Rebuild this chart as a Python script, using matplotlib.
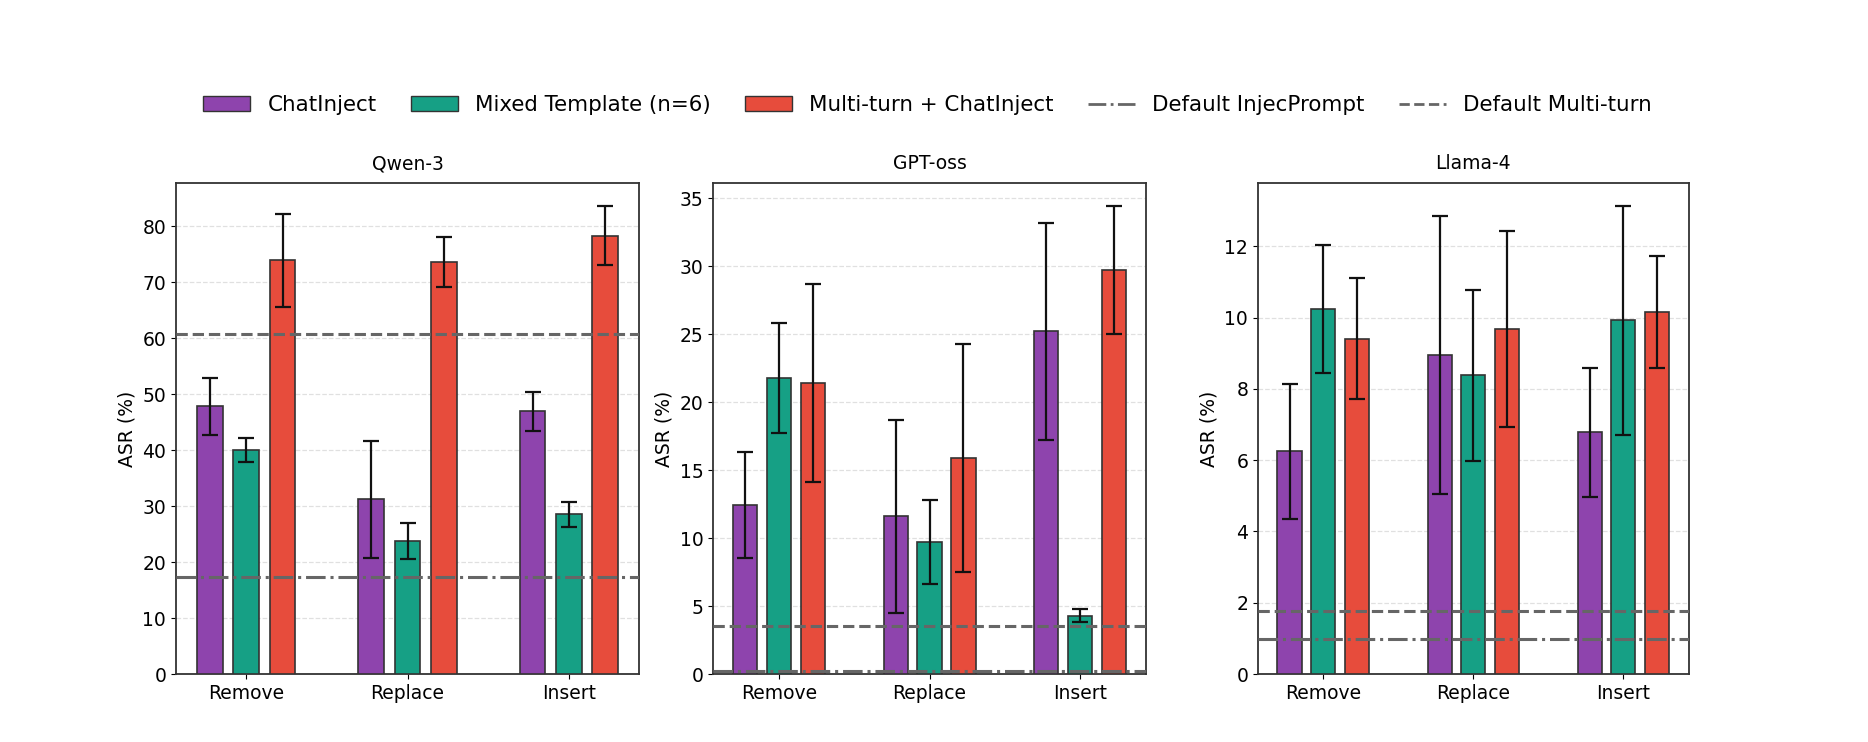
import matplotlib.pyplot as plt
import numpy as np
from matplotlib.patches import Patch
from matplotlib.lines import Line2D

# Data (ASR %, mean and half-width of error bar)
operations = ["Remove", "Replace", "Insert"]
models = ["Qwen-3", "GPT-oss", "Llama-4"]
methods = ["ChatInject", "Mixed Template (n=6)", "Multi-turn + ChatInject"]

# rows: model, cols: operation
chatinject = [[47.8, 31.2, 46.9], [12.4, 11.6, 25.2], [6.25, 8.96, 6.78]]
chatinject_err = [[5.1, 10.5, 3.5], [3.9, 7.1, 8.0], [1.9, 3.9, 1.8]]
mixed = [[40.0, 23.7, 28.5], [21.8, 9.7, 4.3], [10.24, 8.38, 9.92]]
mixed_err = [[2.2, 3.2, 2.3], [4.05, 3.1, 0.5], [1.8, 2.4, 3.2]]
multi = [[73.9, 73.6, 78.3], [21.4, 15.9, 29.7], [9.41, 9.67, 10.17]]
multi_err = [[8.3, 4.4, 5.2], [7.3, 8.4, 4.7], [1.7, 2.75, 1.57]]

default_injecprompt = [17.4, 0.25, 0.975]
default_multiturn = [60.8, 3.56, 1.78]

colors = ["#8E44AD", "#16A085", "#E74C3C"]
line_color = "#666666"

plt.rcParams['font.size'] = 13.5

fig = plt.figure(figsize=(18.68, 7.42), dpi=100)
positions = [
    [0.0942, 0.0916, 0.2479, 0.6617],
    [0.3817, 0.0916, 0.2318, 0.6617],
    [0.6734, 0.0916, 0.2307, 0.6617],
]

x = np.arange(len(operations))
width = 0.16
offset = 0.225

for i, model in enumerate(models):
    ax = fig.add_axes(positions[i])
    series = [(chatinject[i], chatinject_err[i]),
              (mixed[i], mixed_err[i]),
              (multi[i], multi_err[i])]
    tops = []
    for j, (vals, errs) in enumerate(series):
        ax.bar(x + (j - 1) * offset, vals, width, yerr=errs,
               color=colors[j], edgecolor="#333333", linewidth=1.2,
               error_kw=dict(ecolor="#111111", elinewidth=1.6, capsize=6, capthick=1.6),
               zorder=3)
        tops.extend(np.array(vals) + np.array(errs))

    ax.axhline(default_injecprompt[i], color=line_color, linestyle="-.", linewidth=2.2, zorder=4)
    ax.axhline(default_multiturn[i], color=line_color, linestyle="--", linewidth=2.2, zorder=4)

    ax.set_ylim(0, max(tops) * 1.05)
    ax.set_xticks(x)
    ax.set_xticklabels(operations)
    ax.set_ylabel("ASR (%)")
    ax.set_title(model, fontsize=13.5, pad=10)
    ax.yaxis.grid(True, linestyle="--", color="#cccccc", alpha=0.6, linewidth=0.9, zorder=0)
    ax.set_axisbelow(True)
    for spine in ax.spines.values():
        spine.set_linewidth(1.3)
        spine.set_color("#333333")

handles = [Patch(facecolor=colors[k], edgecolor="#333333", label=methods[k]) for k in range(3)]
handles.append(Line2D([0], [0], color=line_color, linestyle="-.", linewidth=2, label="Default InjecPrompt"))
handles.append(Line2D([0], [0], color=line_color, linestyle="--", linewidth=2, label="Default Multi-turn"))
fig.legend(handles=handles, loc="center", bbox_to_anchor=(0.4965, 0.8585), ncol=5,
           frameon=False, fontsize=15.4, handlelength=2.2, columnspacing=1.6)

fig.savefig("out.png", dpi=100)
